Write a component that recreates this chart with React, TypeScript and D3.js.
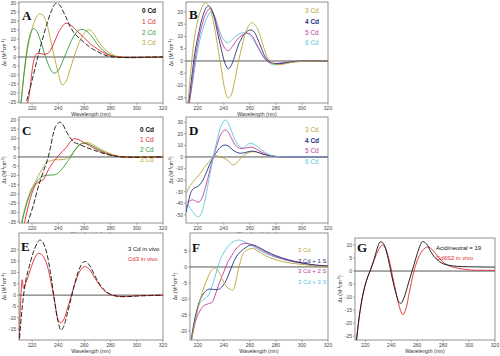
import React from "react";
import * as d3 from "d3";

type P = [number, number];

// ---------- Panel A ----------
const aCd0: P[] = [[213,-32],[216,-24],[220,-13],[224,-1],[228,10],[232,20],[235,26],[238,29.8],[241,29],[244,25],[246,22],[249,17],[252,13.5],[256,10.5],[260,8],[265,5],[270,3],[275,1.2],[280,0.2],[290,-0.3],[300,-0.2],[320,0]];
const aCd1: P[] = [[215,-32],[218,-20],[221,-3],[223,1.5],[226,2],[229,1.5],[232,2],[235,5],[238,10],[242,16],[246,18.8],[250,17.5],[255,14],[260,10.5],[265,7],[270,4.5],[275,2.2],[280,0.8],[285,0.1],[295,-0.3],[320,0]];
const aCd2: P[] = [[211,-30],[213,-15],[215,-2],[217,8],[219,13.5],[221,15.8],[223,15],[226,10],[229,3],[232,-3.5],[235,-8],[237,-9],[240,-7.5],[243,-3],[247,4],[251,10.5],[255,14.5],[258,15.4],[262,14.2],[266,11],[270,7],[274,3.8],[278,1.6],[283,0.3],[290,-0.3],[320,0]];
const aCd3: P[] = [[211,-30],[213,-15],[216,2],[219,13],[222,20],[225,23.8],[228,23.5],[231,19],[234,10],[237,0],[240,-9],[243,-15.5],[246,-13.5],[249,-7],[252,0],[256,8],[260,13.5],[263,15.2],[266,14],[270,9.5],[274,5.5],[278,2.8],[283,0.8],[290,-0.2],[320,0]];

// ---------- Panel B ----------
const bCd3: P[] = [[212,-20],[214,-8],[216,3],[218,11],[221,18.5],[224,22.5],[226,23.7],[229,22],[232,16],[235,7],[238,-3],[241,-12],[243,-15],[245,-14.5],[248,-9],[251,-1],[254,6],[257,12],[260,15],[262,15.6],[265,14],[268,10],[271,5],[274,1],[277,-0.8],[281,-1.5],[286,-1.3],[292,-0.6],[300,-0.2],[320,0]];
const bCd4: P[] = [[212,-22],[214,-13],[216,-4],[218,4],[221,12],[224,18.5],[227,22],[229,22.3],[232,19],[235,12],[238,5],[241,-1],[243.5,-3.2],[246,-1.5],[249,3],[252,7.5],[256,11],[260,12.6],[263,12],[266,9],[269,5],[272,1.5],[275,-0.3],[280,-1.1],[286,-0.9],[292,-0.4],[300,-0.1],[320,0]];
const bCd5: P[] = [[212,-22],[215,-12],[217,-3],[220,7],[223,14],[226,19],[229.4,21.4],[232,19.5],[235,14],[238,8.5],[241,5],[243.5,4.2],[246,5.5],[250,8.5],[254,10.5],[258.5,11.3],[262,10],[265,7],[268,4],[271,1.2],[274,-0.3],[278,-1],[284,-0.8],[292,-0.3],[300,0],[320,0]];
const bCd6: P[] = [[212,-20],[215,-12],[218,-2],[221,7],[224,13],[227,17.5],[230,20],[233,18],[236,13.5],[239,9.5],[242.5,7.4],[245,8],[249,10],[253,11.3],[257,11.5],[261,10],[265,6.5],[269,3],[273,0.3],[277,-1.4],[280,-1.6],[285,-1],[292,-0.4],[300,0],[320,0]];

// ---------- Panel C ----------
const cCd0: P[] = [[215,-40],[217,-35],[221,-26],[224,-18],[226,-13.3],[229,-7],[232,-1],[234,5],[236,12],[238,16.5],[241,18.8],[243,18],[246,14],[249,10.5],[252,8],[256,6.8],[262,5],[268,3.5],[275,1.8],[282,0.6],[290,0],[320,0]];
const cCd1: P[] = [[213,-40],[215,-33],[218,-24],[221,-17.5],[224,-14],[227,-13],[229,-12],[231,-9],[234,-5],[237,-2],[240,0.5],[243,3],[246,5],[249,8],[252,9.8],[255,9.5],[259,8],[264,6],[270,3.8],[276,2],[282,0.8],[290,0],[320,0]];
const cCd2: P[] = [[211,-40],[213,-33],[216,-25],[219,-19],[222,-15],[226,-11.5],[230,-10],[234,-9.8],[238,-9.5],[241,-8],[244,-5.5],[247,-2.5],[250,0.5],[253,4],[256,6.5],[259,7.4],[262,7.2],[266,6],[271,4],[277,2],[283,0.6],[290,0],[320,0]];
const cCd3: P[] = [[211,-40],[213,-32],[216,-24],[219,-18],[222,-14],[225,-10],[228,-6],[231,-3],[234,-2],[238,-1.5],[242,-1.5],[246,-1],[249,0.5],[252,3],[255,5.5],[258,7.3],[261,7.9],[264,7.5],[268,6],[273,4],[279,2],[285,0.5],[292,0],[320,0]];

// ---------- Panel D ----------
const dCd3: P[] = [[211,-32],[213,-27],[216,-22],[219,-18],[222,-14],[225,-9],[228,-5],[231,-1],[234,1],[237,0],[241,-1.5],[244,-4],[247,-6.8],[250,-5],[253,-1],[256,2],[260,4],[263,4.6],[267,3.5],[272,1.8],[278,0.6],[285,0],[320,0]];
const dCd4: P[] = [[211,-48],[213,-38],[215,-30],[217,-27],[220,-25.5],[223,-22],[226,-15],[229,-7],[232,0],[235,5],[238,9],[241,10.3],[244,9],[247,6],[250,4],[253,3.2],[257,4],[261,5],[265,4.5],[270,2.5],[276,1],[283,0.2],[290,0],[320,0]];
const dCd5: P[] = [[211,-44],[213,-39],[216,-37],[219,-38.5],[221,-39],[223,-36],[226,-26],[229,-13],[232,0],[235,11],[238,20],[241,23.3],[243,22],[246,16],[249,10],[252,7.5],[256,7.5],[260,8.5],[263,8],[267,5.5],[272,2.5],[278,0.8],[285,0],[320,0]];
const dCd6: P[] = [[211,-38],[213,-42],[216,-47],[219,-51],[221,-51.5],[223,-48],[226,-35],[229,-17],[232,0],[235,15],[238,27],[241,31.9],[243,30],[246,22],[249,14],[252,9],[255,8],[258,10.5],[260,11.8],[263,11],[267,8],[271,4.5],[276,1.5],[282,0.3],[290,0],[320,0]];

// ---------- Panel E ----------
const eCd3Vivo: P[] = [[210,-22],[212,-8],[213.5,0],[215,6],[218,13],[221,19],[224,23],[226,24.3],[228,23.5],[231,19],[234,10],[237,-2],[240,-12],[242,-15.5],[244,-14],[247,-8],[250,-1],[253,6],[256,11.5],[259,14.5],[261,14.8],[264,13],[268,8.5],[272,4.5],[276,1.8],[280,0.3],[285,-0.5],[292,-0.7],[300,-0.4],[310,-0.2],[320,0]];
const eCd3Red: P[] = [[210,-22],[211.5,0],[212.5,6.8],[213.5,3],[215,5],[218,10],[221,15],[224,18.2],[225.5,18.4],[228,17.5],[231,14],[234,7],[237,-2],[240,-11],[242,-12.2],[244,-11],[247,-6],[250,0],[253,5.5],[256,10],[259,12.3],[261,12.5],[264,11.2],[268,7.5],[272,4],[276,1.5],[280,0.2],[285,-0.5],[292,-0.6],[300,-0.3],[320,0]];

// ---------- Panel F ----------
const fCd3: P[] = [[214,-26],[216,-21],[219,-15],[222,-10],[225,-6],[228,-3],[231,-0.8],[233,-0.3],[236,-1.5],[239,-4],[242,-6.2],[245,-7],[247,-7.2],[249,-5],[251,-1],[253,2],[255,4.3],[258,5.3],[262,5.8],[266,5],[272,3.5],[280,2.2],[290,1.3],[300,0.8],[310,0.3],[320,0]];
const fS1: P[] = [[214,-26],[216,-20],[219,-14],[222,-10],[225,-8],[228,-7],[232,-7],[236,-7],[239,-6],[242,-4],[245,-1],[248,2],[251,4],[255,5.5],[259,6.6],[262,6.9],[266,6.3],[272,5],[280,3.5],[290,2.2],[300,1.3],[310,0.6],[320,0.3]];
const fS2: P[] = [[214,-26],[216,-21],[219,-16],[222,-13.5],[225,-12],[228,-11.5],[231,-11],[234,-8],[237,-4.5],[240,-1.5],[243,1.5],[246,3.5],[249,5.5],[253,7],[257,7.4],[261,7],[266,6],[272,4.6],[280,3.2],[290,2],[300,1.2],[310,0.6],[320,0.3]];
const fS3: P[] = [[214,-26],[216,-20],[219,-14],[222,-11],[225,-10],[228,-9],[231,-6],[234,-2],[237,2],[240,4.5],[243,6.3],[247,7.8],[251,8.4],[255,8],[260,7],[266,5.5],[272,4.2],[280,3],[290,1.9],[300,1.1],[310,0.5],[320,0.2]];

// ---------- Panel G ----------
const gAcid: P[] = [[212,-32],[213.5,-25],[216,-15],[219,-7],[222,-2],[224,0.5],[227,5],[229,8.5],[231.5,11.2],[234,10.5],[237,6],[240,-1],[243,-7.5],[246,-12],[247.5,-12.4],[250,-10],[253,-5],[256,0],[259,5],[262,9.5],[264,11.3],[267,10.5],[271,7],[275,4.5],[280,2.8],[287,2],[295,1.7],[305,1.6],[320,1.5]];
const gVivo: P[] = [[212,-32],[213.5,-25],[216,-15],[219,-7],[222,-2],[224,0.5],[227,4.5],[230,8],[233,10],[235,9.2],[238,5],[241,-2],[244,-9],[247,-15],[249,-16.8],[251,-15],[254,-8],[257,-1],[260,4],[264,7.8],[268,9.3],[272,8],[276,5.5],[281,3],[287,1.6],[295,0.8],[302,0.4],[310,0.3],[320,0.3]];

const xTickVals = [220, 240, 260, 280, 300, 320];

const BLACK = "#111";
const RED = "#e0282e";
const GREEN = "#2f9a3a";
const OLIVE = "#bba536";
const NAVY = "#24307e";
const MAGENTA = "#c03a9c";
const CYAN = "#5cc6e0";

type Series = { data: P[]; color: string; dash?: string };
type Leg = { text: string; color: string; weight?: number };

type PanelProps = {
  id: string;
  letter: string;
  box: [number, number, number, number]; // x0,y0,x1,y1
  xDomain: [number, number];
  yDomain: [number, number];
  yTicks: number[];
  series: Series[];
  legend: Leg[];
  legX: number;
  legY: number[];
  legSize?: number;
  letterPos: [number, number];
};

function Panel(p: PanelProps) {
  const [x0, y0, x1, y1] = p.box;
  const x = d3.scaleLinear().domain(p.xDomain).range([x0, x1]);
  const y = d3.scaleLinear().domain(p.yDomain).range([y1, y0]);
  const line = d3
    .line<P>()
    .x((d) => x(d[0]))
    .y((d) => y(d[1]))
    .curve(d3.curveCatmullRom.alpha(0.5));
  const clipId = "clip-" + p.id;
  const midY = (y0 + y1) / 2;
  const midX = (x0 + x1) / 2;
  return (
    <g>
      <defs>
        <clipPath id={clipId}>
          <rect x={x0} y={y0} width={x1 - x0} height={y1 - y0} />
        </clipPath>
      </defs>
      <rect x={x0} y={y0} width={x1 - x0} height={y1 - y0} fill="#fff" stroke="#777" strokeWidth={0.8} />
      <line x1={x0} x2={x1} y1={y(0)} y2={y(0)} stroke="#444" strokeWidth={0.9} />
      <g clipPath={`url(#${clipId})`}>
        {p.series.map((s, i) => (
          <path key={i} d={line(s.data) || ""} fill="none" stroke={s.color} strokeWidth={0.9} strokeDasharray={s.dash} />
        ))}
      </g>
      {p.yTicks.map((t) => (
        <g key={t}>
          <line x1={x0 - 2} x2={x0} y1={y(t)} y2={y(t)} stroke="#777" strokeWidth={0.6} />
          <text x={x0 - 3} y={y(t) + 1.8} fontSize={5} textAnchor="end" fill="#444" fontFamily="Arial, Liberation Sans, sans-serif">
            {t}
          </text>
        </g>
      ))}
      {xTickVals.map((t) => (
        <g key={t}>
          <line x1={x(t)} x2={x(t)} y1={y1} y2={y1 + 2} stroke="#777" strokeWidth={0.6} />
          <text x={x(t)} y={y1 + 7} fontSize={5} textAnchor="middle" fill="#444" fontFamily="Arial, Liberation Sans, sans-serif">
            {t}
          </text>
        </g>
      ))}
      <text x={midX} y={y1 + 12.5} fontSize={5.2} textAnchor="middle" fill="#333" fontFamily="Arial, Liberation Sans, sans-serif">
        Wavelength (nm)
      </text>
      <text
        transform={`translate(${x0 - 13},${midY}) rotate(-90)`}
        fontSize={5}
        textAnchor="middle"
        fill="#333"
        fontFamily="Arial, Liberation Sans, sans-serif"
      >
        Δε (M<tspan baselineShift="super" fontSize={3.5}>-1</tspan>cm<tspan baselineShift="super" fontSize={3.5}>-1</tspan>)
      </text>
      <text x={p.letterPos[0]} y={p.letterPos[1]} fontSize={13} fontWeight="bold" fontFamily="Liberation Serif, Times New Roman, serif" fill="#111">
        {p.letter}
      </text>
      {p.legend.map((l, i) => (
        <text
          key={i}
          x={p.legX}
          y={p.legY[i]}
          fontSize={p.legSize || 6.5}
          fill={l.color}
          fontWeight={l.weight || 400}
          fontFamily="Arial, Liberation Sans, sans-serif"
        >
          {l.text}
        </text>
      ))}
    </g>
  );
}

const range = (a: number, b: number, s: number) => d3.range(a, b + s / 2, s);

export default function App() {
  return (
    <div style={{ position: "absolute", left: 0, top: 0 }}>
      <svg width={500} height={356} style={{ display: "block", background: "#fff" }}>
        <Panel
          id="A" letter="A" box={[19, 2, 163, 103]} xDomain={[210, 320]} yDomain={[-25.6, 30.6]}
          yTicks={range(-25, 30, 5)}
          series={[
            { data: aCd3, color: OLIVE },
            { data: aCd2, color: GREEN },
            { data: aCd1, color: RED },
            { data: aCd0, color: BLACK, dash: "5,2" },
          ]}
          legend={[
            { text: "0 Cd", color: BLACK, weight: 700 },
            { text: "1 Cd", color: RED },
            { text: "2 Cd", color: GREEN },
            { text: "3 Cd", color: OLIVE },
          ]}
          legX={142} legY={[13, 24, 35, 45]} letterPos={[22, 20]}
        />
        <Panel
          id="B" letter="B" box={[186, 2, 328, 103]} xDomain={[211, 320]} yDomain={[-17.1, 24]}
          yTicks={range(-15, 20, 5)}
          series={[
            { data: bCd6, color: CYAN },
            { data: bCd5, color: MAGENTA },
            { data: bCd4, color: NAVY },
            { data: bCd3, color: OLIVE },
          ]}
          legend={[
            { text: "3 Cd", color: OLIVE },
            { text: "4 Cd", color: NAVY, weight: 700 },
            { text: "5 Cd", color: MAGENTA },
            { text: "6 Cd", color: CYAN },
          ]}
          legX={305} legY={[13, 24, 35, 45]} letterPos={[189, 19]}
        />
        <Panel
          id="C" letter="C" box={[19, 117, 163, 223]} xDomain={[210, 320]} yDomain={[-35.7, 21.6]}
          yTicks={range(-35, 20, 5)}
          series={[
            { data: cCd3, color: OLIVE },
            { data: cCd2, color: GREEN },
            { data: cCd1, color: RED },
            { data: cCd0, color: BLACK, dash: "5,2" },
          ]}
          legend={[
            { text: "0 Cd", color: BLACK, weight: 700 },
            { text: "1 Cd", color: RED },
            { text: "2 Cd", color: GREEN },
            { text: "3 Cd", color: OLIVE },
          ]}
          legX={140} legY={[132, 142, 152, 162]} letterPos={[22, 135]}
        />
        <Panel
          id="D" letter="D" box={[186, 117, 328, 223]} xDomain={[211, 320]} yDomain={[-57, 34.5]}
          yTicks={range(-50, 30, 10)}
          series={[
            { data: dCd3, color: OLIVE },
            { data: dCd4, color: NAVY },
            { data: dCd5, color: MAGENTA },
            { data: dCd6, color: CYAN },
          ]}
          legend={[
            { text: "3 Cd", color: OLIVE },
            { text: "4 Cd", color: NAVY, weight: 700 },
            { text: "5 Cd", color: MAGENTA },
            { text: "6 Cd", color: CYAN },
          ]}
          legX={305} legY={[132, 143, 153, 164]} letterPos={[189, 135]}
        />
        <Panel
          id="E" letter="E" box={[19, 233, 163, 340]} xDomain={[210, 320]} yDomain={[-19.8, 27.4]}
          yTicks={range(-15, 20, 5)}
          series={[
            { data: eCd3Red, color: RED },
            { data: eCd3Vivo, color: BLACK, dash: "5,2" },
          ]}
          legend={[
            { text: "3 Cd in vivo", color: BLACK },
            { text: "Cd3 in vivo", color: RED },
          ]}
          legX={128} legY={[251, 261]} legSize={6} letterPos={[21, 251]}
        />
        <Panel
          id="F" letter="F" box={[190, 233, 328, 340]} xDomain={[214, 320]} yDomain={[-22.8, 10.6]}
          yTicks={range(-20, 5, 5)}
          series={[
            { data: fS3, color: CYAN },
            { data: fS2, color: MAGENTA },
            { data: fS1, color: NAVY },
            { data: fCd3, color: OLIVE },
          ]}
          legend={[
            { text: "3 Cd", color: OLIVE },
            { text: "3 Cd + 1 S", color: NAVY },
            { text: "3 Cd + 2 S", color: MAGENTA },
            { text: "3 Cd + 3 S", color: CYAN },
          ]}
          legX={298} legY={[252, 263, 273, 284]} legSize={6} letterPos={[192, 252]}
        />
        <Panel
          id="G" letter="G" box={[355, 238, 495, 340]} xDomain={[212, 320]} yDomain={[-26.5, 12.7]}
          yTicks={range(-25, 10, 5)}
          series={[
            { data: gVivo, color: RED },
            { data: gAcid, color: BLACK },
          ]}
          legend={[
            { text: "Acid/neutral = 19", color: BLACK },
            { text: "Cd6S2 in vivo", color: RED },
          ]}
          legX={436} legY={[250, 260]} legSize={6} letterPos={[357, 252]}
        />
      </svg>
    </div>
  );
}
